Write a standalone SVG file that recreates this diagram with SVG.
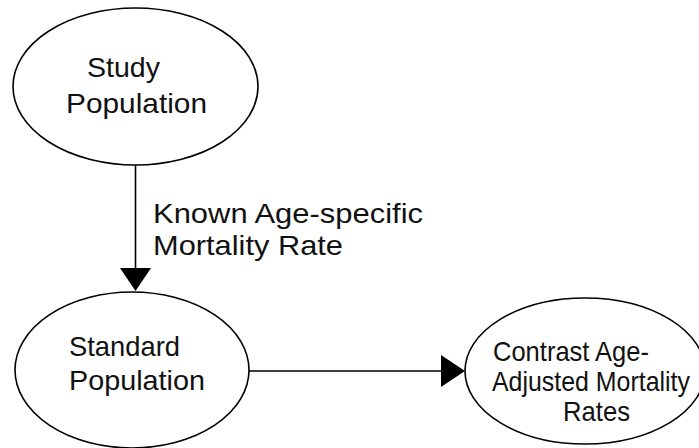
<svg xmlns="http://www.w3.org/2000/svg" width="699" height="448" viewBox="0 0 699 448">
<style>
.node ellipse{fill:#fff;stroke:#000;stroke-width:1.6}
text{font-family:"Liberation Sans",Arial,sans-serif;fill:#111}
.t{font-size:28px}
.c line{stroke:#000;stroke-width:1.6}
.c polygon{fill:#000}
</style>
<rect width="699" height="448" fill="#fff"/>
<g id="study" class="node">
<ellipse cx="135.5" cy="86.5" rx="122.5" ry="78.5"/>
<text class="t" x="87" y="77" textLength="73" lengthAdjust="spacingAndGlyphs">Study</text>
<text class="t" x="66" y="113" textLength="141" lengthAdjust="spacingAndGlyphs">Population</text>
</g>
<g id="standard" class="node">
<ellipse cx="132" cy="370" rx="117" ry="78"/>
<text class="t" x="69" y="356" textLength="111" lengthAdjust="spacingAndGlyphs">Standard</text>
<text class="t" x="69" y="390" textLength="136" lengthAdjust="spacingAndGlyphs">Population</text>
</g>
<g id="contrast" class="node">
<ellipse cx="585" cy="371" rx="120" ry="73"/>
<text class="t" x="493" y="361" font-size="26" textLength="156" lengthAdjust="spacingAndGlyphs">Contrast Age-</text>
<text class="t" x="492" y="391" font-size="26" textLength="198" lengthAdjust="spacingAndGlyphs">Adjusted Mortality</text>
<text class="t" x="563" y="421" font-size="26" textLength="67" lengthAdjust="spacingAndGlyphs">Rates</text>
</g>
<g id="connectors" class="c">
<line x1="135.5" y1="165" x2="135.5" y2="270"/>
<polygon points="120,268 151,268 135.5,291"/>
<line x1="249" y1="371" x2="443" y2="371"/>
<polygon points="441,355 441,387 465,371"/>
<text class="t" x="153" y="223" textLength="270" lengthAdjust="spacingAndGlyphs">Known Age-specific</text>
<text class="t" x="153" y="255" textLength="190" lengthAdjust="spacingAndGlyphs">Mortality Rate</text>
</g>
</svg>
